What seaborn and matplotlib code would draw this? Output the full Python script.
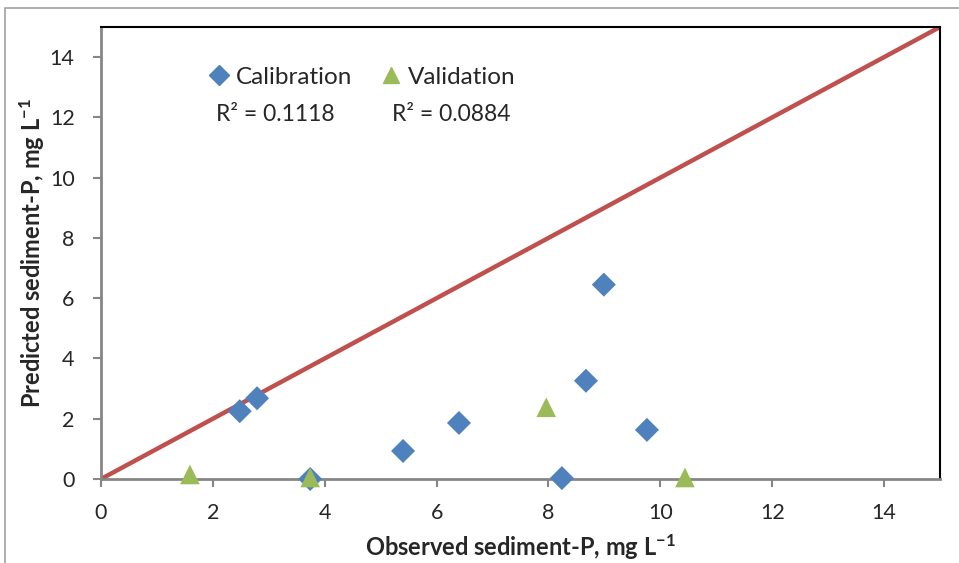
import matplotlib
matplotlib.use("Agg")
import matplotlib.pyplot as plt
import seaborn as sns
import pandas as pd
from matplotlib.patches import Rectangle
from matplotlib.lines import Line2D

# Observed vs predicted sediment-P (mg/L)
cal_observed = [2.48, 2.79, 3.74, 5.40, 6.40, 8.24, 8.67, 8.99, 9.76]
cal_predicted = [2.25, 2.68, 0.00, 0.93, 1.86, 0.03, 3.26, 6.45, 1.63]
val_observed = [1.59, 3.74, 7.96, 10.44]
val_predicted = [0.15, 0.05, 2.38, 0.05]
one_to_one = [0, 15]
r2_labels = ["R\u00b2 = 0.1118", "R\u00b2 = 0.0884"]
x_ticks = [0, 2, 4, 6, 8, 10, 12, 14]
y_ticks = [0, 2, 4, 6, 8, 10, 12, 14]

blue = "#4F81BD"
green = "#9BBB59"
red = "#C0504D"
gray = "#868686"

sns.set_theme(style="white")
plt.rcParams["font.family"] = ["Lato", "DejaVu Sans"]
plt.rcParams["mathtext.fontset"] = "custom"
plt.rcParams["mathtext.rm"] = "Lato:bold"
plt.rcParams["mathtext.bf"] = "Lato:bold"
plt.rcParams["mathtext.default"] = "bf"

fig = plt.figure(figsize=(9.59, 5.63), dpi=100)
ax = fig.add_axes([101 / 959, 1 - 479 / 563, (940 - 101) / 959, (479 - 27) / 563])

# chart border
fig.patches.append(Rectangle((5 / 959, -0.1), 1.2, (563 - 8) / 563 + 0.1,
                             transform=fig.transFigure, fill=False,
                             edgecolor="#A0A0A0", linewidth=1.2))

cal = pd.DataFrame({"obs": cal_observed, "pred": cal_predicted})
val = pd.DataFrame({"obs": val_observed, "pred": val_predicted})

sns.lineplot(x=one_to_one, y=one_to_one, ax=ax, color=red, linewidth=3.2, zorder=2)
sns.scatterplot(data=cal, x="obs", y="pred", ax=ax, marker="D", s=150,
                color=blue, edgecolor="none", zorder=3, clip_on=False)
sns.scatterplot(data=val, x="obs", y="pred", ax=ax, marker="^", s=200,
                color=green, edgecolor="none", zorder=4, clip_on=False)

ax.set_xlim(0, 15)
ax.set_ylim(0, 15)
ax.set_xticks(x_ticks)
ax.set_yticks(y_ticks)
ax.tick_params(axis="both", which="both", length=6, width=1.5, color=gray,
               direction="out", labelsize=15.5, bottom=True, left=True)
ax.tick_params(axis="y", pad=13)
ax.tick_params(axis="x", pad=11)
for side in ("left", "bottom"):
    ax.spines[side].set_color(gray)
    ax.spines[side].set_linewidth(2)
for side in ("top", "right"):
    ax.spines[side].set_color("black")
    ax.spines[side].set_linewidth(1.5)

ax.set_xlabel("Observed sediment-P, mg L$^{-1}$", fontsize=17, fontweight="bold",
              labelpad=7)
ax.set_ylabel("Predicted sediment-P, mg L$^{-1}$", fontsize=17, fontweight="bold",
              labelpad=2)

handles = [
    Line2D([], [], linestyle="none", marker="D", markersize=10, color=blue),
    Line2D([], [], linestyle="none", marker="^", markersize=12, color=green),
]
ax.legend(handles, ["Calibration", "Validation"], ncol=2, frameon=False,
          loc="upper left", bbox_to_anchor=(0.097, 0.96), fontsize=17.5,
          handletextpad=0.1, columnspacing=1.0, handlelength=1.2)

ax.text(2.05, 12.1, r2_labels[0], fontsize=16.5, va="center", ha="left")
ax.text(5.2, 12.1, r2_labels[1], fontsize=16.5, va="center", ha="left")

fig.savefig("out.png", dpi=100)
